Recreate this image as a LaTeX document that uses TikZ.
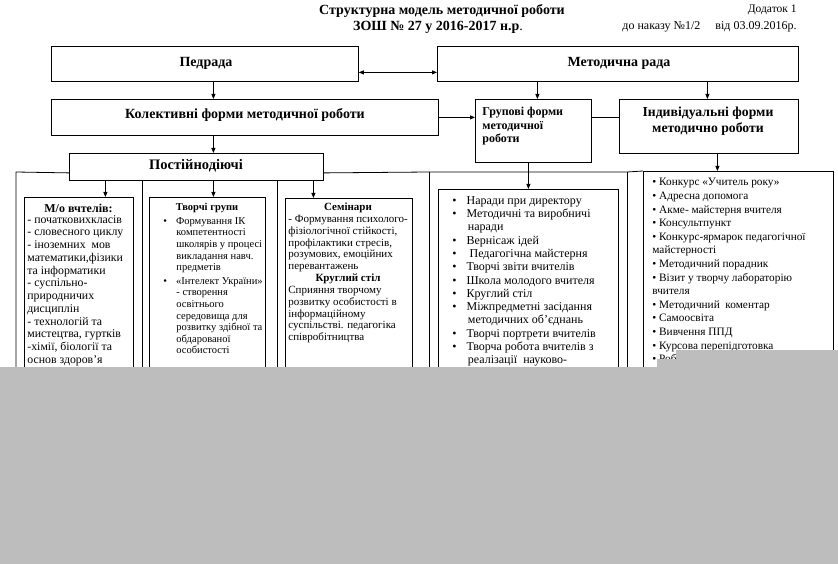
\documentclass[tikz,border=0pt]{standalone}
\usepackage{fontspec}
\setmainfont{Liberation Serif}
\usetikzlibrary{arrows.meta,calc}
\begin{document}
\begin{tikzpicture}[x=1pt,y=-1pt,
  line width=0.8pt,
  box/.style={draw, anchor=north west, inner sep=0pt, rectangle},
  arr/.style={-{Triangle[length=5pt,width=4pt]}},
  darr/.style={{Triangle[length=5pt,width=4pt]}-{Triangle[length=5pt,width=4pt]}},
  hd/.style={font=\bfseries\fontsize{14}{16}\selectfont, inner sep=0pt},
  lst/.style={anchor=north west, inner sep=0pt, align=left},
]
\useasboundingbox (0,0) rectangle (838,564);
\fill[white] (0,0) rectangle (838,564);

% title
\node[hd] (t1) at (442,11) {Структурна модель методичної роботи};
\node[inner sep=0pt, font=\fontsize{14}{16}\selectfont] (t2) at (438,27) {\bfseries ЗОШ № 27 у 2016-2017 н.р\mdseries .};
\node[inner sep=0pt, anchor=east, font=\fontsize{11.5}{13}\selectfont] (t3) at (797,10) {Додаток 1};
\node[inner sep=0pt, anchor=east, font=\fontsize{12}{13}\selectfont] (t4) at (797,27) {до наказу №1/2\hspace{15pt}від 03.09.2016р.};

% top boxes
\node[box, minimum width=307pt, minimum height=35pt] (ped) at (51,46) {};
\node[hd] at (206,63) {Педрада};
\node[box, minimum width=361pt, minimum height=35pt] (mr) at (437,46) {};
\node[hd] at (619,63) {Методична рада};
\node[box, minimum width=387pt, minimum height=36pt] (kol) at (51,99) {};
\node[hd] at (245,115) {Колективні форми методичної роботи};
\node[box, minimum width=116pt, minimum height=63pt] (grp) at (475,99) {};
\node[lst, font=\bfseries\fontsize{12}{13.5}\selectfont] at (482,107) {Групові форми\\методичної\\роботи};
\node[box, minimum width=179pt, minimum height=54pt] (ind) at (619,99) {};
\node[hd, align=center, font=\bfseries\fontsize{13.7}{16}\selectfont] at (708,121) {Індивідуальні форми\\методично роботи};
\node[box, minimum width=254pt, minimum height=27pt] (post) at (69,153) {};
\node[hd, font=\bfseries\fontsize{14.5}{16}\selectfont] at (196,166) {Постійнодіючі};

% frames
\coordinate (lf) at (16,172);
\coordinate (d1) at (142,0);
\coordinate (d2) at (277,0);
\coordinate (rf) at (429,172);
\coordinate (mf) at (627,172);
\draw ([yshift=-6pt]post.west) -- (lf) -- (16,380);
\draw (d1 |- post.south) -- (142,380);
\draw (d2 |- post.south) -- (277,380);

% inner boxes
\node[box, minimum width=109pt, minimum height=190pt] (c1) at (24,197) {};
\node[box, minimum width=116pt, minimum height=190pt] (c2) at (149,197) {};
\node[box, minimum width=127pt, minimum height=190pt] (c3) at (285,198) {};
\node[box, minimum width=180pt, minimum height=200pt] (mid) at (438,189) {};
\node[box, minimum width=190pt, minimum height=210pt] (rb) at (643,171) {};
\draw ([yshift=-6pt]post.east) -- (rf) -- (mf) -- (rb.north west);
\draw (rf) -- (429,380);
\draw (mf) -- (627,380);

% connectors
\draw[darr] ([yshift=-8.5pt]ped.east) -- ([yshift=-8.5pt]mr.west);
\draw[arr] ([xshift=8.5pt]ped.south) -- ([xshift=8.5pt]ped.south |- kol.north);
\draw[arr] (kol.east) -- (kol.east -| grp.west);
\draw (grp.east |- kol.east) -- (ind.west |- kol.east);
\draw[arr] ([xshift=-80.5pt]mr.south) -- ([xshift=-80.5pt]mr.south |- grp.north);
\draw[arr] ([xshift=89.5pt]mr.south) -- ([xshift=89.5pt]mr.south |- ind.north);
\draw[arr] ([xshift=-31.5pt]kol.south) -- ([xshift=-31.5pt]kol.south |- post.north);
\draw[arr] ([xshift=-91pt]post.south) -- ([xshift=-91pt]post.south |- c1.north);
\draw[arr] ([xshift=17pt]post.south) -- ([xshift=17pt]post.south |- c2.north);
\draw[arr] ([xshift=117pt]post.south) -- ([xshift=117pt]post.south |- c3.north);
\draw[arr] ([xshift=-5pt]grp.south) -- ([xshift=-5pt]grp.south |- mid.north);
\draw[arr] ([xshift=8.5pt]ind.south) -- ([xshift=8.5pt]ind.south |- rb.north);

% column 1
\node[inner sep=0pt, font=\bfseries\fontsize{12}{13}\selectfont] at (78.5,208) {М/о вчтелів:};
\node[lst, font=\fontsize{11.8}{12.75}\selectfont] at (27,215) {- початковихкласів\\- словесного циклу\\- іноземних\ \ мов\\математики,фізики\\та інформатики\\- суспільно-\\природничих\\дисциплін\\- технологій та\\мистецтва, гуртків\\-хімії, біології та\\основ здоров’я};

% column 2
\node[inner sep=0pt, font=\bfseries\fontsize{10.5}{11}\selectfont] at (207,208) {Творчі групи};
\node[lst, font=\fontsize{10.5}{11.6}\selectfont] at (163,217) {•\hspace{9pt}Формування ІК\\\hspace{13pt}компетентності\\\hspace{13pt}школярів у процесі\\\hspace{13pt}викладання навч.\\\hspace{13pt}предметів\\[2pt]•\hspace{9pt}«Інтелект України»\\\hspace{13pt}- створення\\\hspace{13pt}освітнього\\\hspace{13pt}середовища для\\\hspace{13pt}розвитку здібної та\\\hspace{13pt}обдарованої\\\hspace{13pt}особистості};

% column 3
\node[inner sep=0pt, font=\bfseries\fontsize{11}{12}\selectfont] at (348,208) {Семінари};
\node[lst, font=\fontsize{11}{11.75}\selectfont] at (288,215) {- Формування психолого-\\фізіологічної стійкості,\\профілактики стресів,\\розумових, емоційних\\перевантажень};
\node[inner sep=0pt, font=\bfseries\fontsize{11}{12}\selectfont] at (348,279) {Круглий стіл};
\node[lst, font=\fontsize{11}{11.75}\selectfont] at (288,286) {Сприяння творчому\\розвитку особистості в\\інформаційному\\суспільстві. педагогіка\\співробітництва};

% middle
\node[lst, font=\fontsize{12}{13.3}\selectfont] at (452,196) {•\hspace{10pt}Наради при директору\\•\hspace{10pt}Методичні та виробничі\\\hspace{15.5pt}наради\\•\hspace{10pt}Вернісаж ідей\\•\hspace{10pt} Педагогічна майстерня\\•\hspace{10pt}Творчі звіти вчителів\\•\hspace{10pt}Школа молодого вчителя\\•\hspace{10pt}Круглий стіл\\•\hspace{10pt}Міжпредметні засідання\\\hspace{15.5pt}методичних об’єднань\\•\hspace{10pt}Творчі портрети вчителів\\•\hspace{10pt}Творча робота вчителів з\\\hspace{15.5pt}реалізації\ \ науково-};

% right
\node[lst, font=\fontsize{11.3}{13.6}\selectfont] at (652,178) {• Конкурс «Учитель року»\\• Адресна допомога\\• Акме- майстерня вчителя\\• Консультпункт\\• Конкурс-ярмарок педагогічної\\майстерності\\• Методичний порадник\\• Візит у творчу лабораторію\\вчителя\\• Методичний\ \ коментар\\• Самоосвіта\\• Вивчення ППД\\• Курсова перепідготовка\\• Роботи};

% grey cover
\fill[gray!52] (676,350) rectangle (838,368);
\fill[gray!52] (657,359) rectangle (838,368);
\fill[gray!52] (0,367) rectangle (838,564);
\end{tikzpicture}
\end{document}
